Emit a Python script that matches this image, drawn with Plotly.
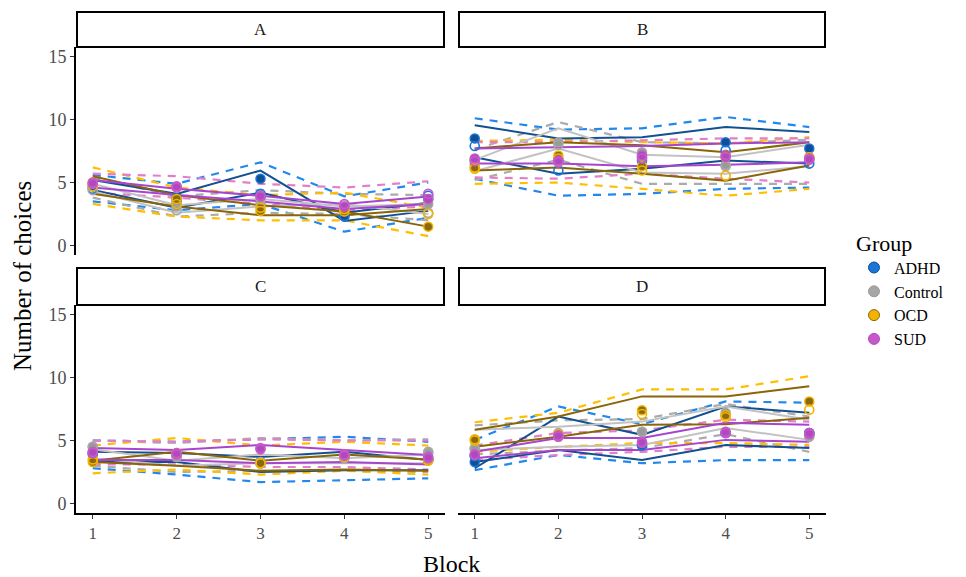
import plotly.graph_objects as go

BLOCKS = [1, 2, 3, 4, 5]
GROUPS = ["ADHD", "Control", "OCD", "SUD"]
PANELS = ["A", "B", "C", "D"]
Y_TICKS = [0, 5, 10, 15]

# ---------------- Panel A ----------------
A_FIT1 = {"ADHD": [5.2, 4.1, 5.95, 1.95, 2.75], "Control": [4.9, 3.2, 3.7, 3.1, 3.3],
          "OCD": [5.5, 4.0, 3.2, 2.7, 1.5], "SUD": [5.2, 4.5, 3.95, 3.3, 3.9]}
A_FIT2 = {"ADHD": [4.4, 3.0, 4.2, 2.6, 3.4], "Control": [4.3, 2.6, 3.1, 3.3, 2.5],
          "OCD": [4.1, 3.1, 2.4, 2.4, 2.9], "SUD": [4.6, 4.0, 3.5, 2.9, 3.3]}
A_UPPER = {"ADHD": [5.6, 4.9, 6.6, 3.9, 5.0], "Control": [5.4, 3.9, 4.4, 4.1, 4.0],
           "OCD": [6.2, 4.6, 4.0, 4.2, 3.0], "SUD": [5.7, 5.5, 4.9, 4.6, 5.1]}
A_LOWER = {"ADHD": [3.5, 2.8, 3.3, 1.1, 2.2], "Control": [3.8, 2.3, 2.6, 2.5, 2.0],
           "OCD": [3.3, 2.3, 2.0, 2.0, 0.75], "SUD": [4.2, 3.8, 3.3, 2.8, 3.1]}
A_FILLED = {"ADHD": [4.7, 3.5, 5.3, 2.3, 3.7], "Control": [4.9, 3.1, 3.7, 3.0, 3.3],
            "OCD": [5.0, 3.7, 2.75, 2.7, 1.5], "SUD": [4.9, 4.7, 3.9, 3.1, 3.7]}
A_OPEN = {"ADHD": [4.5, 3.75, 4.1, 2.35, 3.95], "Control": [4.4, 2.8, 3.3, 3.2, 2.6],
          "OCD": [4.7, 3.3, 3.0, 2.9, 2.5], "SUD": [5.0, 4.6, 3.95, 3.3, 4.1]}

# ---------------- Panel B ----------------
B_FIT1 = {"ADHD": [9.55, 8.5, 8.6, 9.4, 9.0], "Control": [6.8, 9.3, 7.2, 7.0, 8.0],
          "OCD": [7.7, 8.2, 7.95, 7.4, 8.2], "SUD": [7.7, 7.8, 7.9, 8.1, 8.2]}
B_FIT2 = {"ADHD": [7.0, 5.7, 6.1, 6.75, 6.5], "Control": [5.9, 7.7, 5.8, 5.7, 6.3],
          "OCD": [5.95, 6.2, 5.7, 5.15, 6.35], "SUD": [6.5, 6.5, 6.3, 6.4, 6.6]}
B_UPPER = {"ADHD": [10.1, 9.2, 9.3, 10.2, 9.4], "Control": [7.6, 9.8, 8.2, 8.1, 8.4],
           "OCD": [8.3, 8.4, 8.2, 8.1, 8.6], "SUD": [8.2, 8.2, 8.35, 8.5, 8.5]}
B_LOWER = {"ADHD": [5.3, 3.95, 4.1, 4.5, 4.6], "Control": [5.2, 6.8, 4.9, 4.9, 4.9],
           "OCD": [4.9, 5.0, 4.5, 3.95, 4.5], "SUD": [5.4, 5.3, 5.7, 5.3, 5.0]}
B_FILLED = {"ADHD": [8.5, 6.8, 7.0, 8.2, 7.7], "Control": [6.8, 8.2, 7.4, 6.4, 7.0],
            "OCD": [6.2, 7.15, 6.3, 7.0, 7.0], "SUD": [6.9, 6.75, 7.15, 7.0, 6.9]}
B_OPEN = {"ADHD": [7.9, 5.95, 6.75, 7.55, 6.5], "Control": [6.4, 8.0, 7.1, 6.3, 6.9],
          "OCD": [6.1, 6.9, 5.95, 5.55, 6.9], "SUD": [6.7, 6.6, 6.9, 7.2, 6.8]}

# ---------------- Panel C ----------------
C_FIT1 = {"ADHD": [4.1, 4.0, 3.7, 4.1, 3.45], "Control": [4.3, 3.4, 3.9, 3.6, 3.9],
          "OCD": [3.4, 4.1, 3.4, 3.9, 3.5], "SUD": [4.4, 4.25, 4.65, 4.25, 3.85]}
C_FIT2 = {"ADHD": [3.3, 3.3, 2.5, 2.65, 2.65], "Control": [3.6, 3.0, 3.2, 3.2, 3.2],
          "OCD": [3.3, 3.0, 2.6, 2.7, 2.6], "SUD": [3.45, 3.45, 3.2, 3.3, 3.1]}
C_UPPER = {"ADHD": [5.0, 4.9, 5.1, 5.3, 4.9], "Control": [5.0, 4.8, 5.2, 5.0, 5.1],
           "OCD": [4.6, 5.2, 4.6, 4.9, 4.6], "SUD": [5.0, 4.9, 5.1, 5.0, 5.0]}
C_LOWER = {"ADHD": [2.8, 2.3, 1.7, 1.85, 2.0], "Control": [3.0, 2.5, 2.6, 2.6, 2.5],
           "OCD": [2.4, 2.7, 2.3, 2.6, 2.3], "SUD": [3.1, 3.1, 2.9, 2.9, 2.7]}
C_FILLED = {"ADHD": [3.9, 3.8, 3.2, 3.7, 3.5], "Control": [4.5, 3.8, 3.2, 3.7, 4.0],
            "OCD": [3.3, 3.95, 3.2, 3.7, 3.5], "SUD": [4.0, 4.0, 4.4, 3.8, 3.7]}
C_OPEN = {"ADHD": [4.05, 3.9, 3.3, 3.65, 3.45], "Control": [4.5, 3.7, 3.3, 3.6, 4.1],
          "OCD": [3.5, 4.0, 3.2, 3.8, 3.4], "SUD": [4.1, 3.9, 4.3, 3.9, 3.6]}

# ---------------- Panel D ----------------
D_FIT1 = {"ADHD": [2.8, 6.9, 5.45, 7.7, 7.2], "Control": [5.85, 6.1, 6.5, 7.7, 6.65],
          "OCD": [5.85, 6.9, 8.5, 8.5, 9.3], "SUD": [4.1, 5.2, 5.2, 6.4, 6.25]}
D_FIT2 = {"ADHD": [3.3, 4.25, 3.45, 4.65, 4.4], "Control": [4.25, 4.5, 4.65, 6.0, 5.05],
          "OCD": [4.5, 5.3, 6.25, 6.3, 6.8], "SUD": [3.6, 4.25, 4.25, 5.05, 4.9]}
D_UPPER = {"ADHD": [5.05, 7.7, 6.3, 8.1, 8.0], "Control": [6.2, 6.6, 6.7, 7.9, 6.9],
           "OCD": [6.45, 7.2, 9.05, 9.05, 10.1], "SUD": [4.6, 5.6, 5.8, 6.65, 6.5]}
D_LOWER = {"ADHD": [2.65, 3.85, 3.2, 3.45, 3.45], "Control": [3.9, 4.2, 4.4, 5.5, 4.1],
           "OCD": [4.1, 4.5, 4.8, 4.8, 4.65], "SUD": [3.45, 3.85, 4.1, 4.5, 4.5]}
D_FILLED = {"ADHD": [3.3, 5.4, 4.6, 5.6, 5.6], "Control": [4.4, 5.6, 5.7, 7.2, 5.3],
            "OCD": [5.1, 5.5, 7.4, 7.0, 8.1], "SUD": [3.85, 5.4, 4.9, 5.7, 5.6]}
D_OPEN = {"ADHD": [3.75, 5.5, 4.65, 5.6, 5.6], "Control": [4.3, 5.5, 5.7, 7.0, 5.4],
          "OCD": [5.0, 5.3, 7.1, 6.85, 7.45], "SUD": [3.9, 5.3, 4.8, 5.6, 5.5]}

PANEL_DATA = {
    "A": (A_FIT1, A_FIT2, A_UPPER, A_LOWER, A_FILLED, A_OPEN),
    "B": (B_FIT1, B_FIT2, B_UPPER, B_LOWER, B_FILLED, B_OPEN),
    "C": (C_FIT1, C_FIT2, C_UPPER, C_LOWER, C_FILLED, C_OPEN),
    "D": (D_FIT1, D_FIT2, D_UPPER, D_LOWER, D_FILLED, D_OPEN),
}

# styles
POINT_COL = {"ADHD": "#1a75d8", "Control": "#a6a6a6", "OCD": "#f2b400", "SUD": "#c758c9"}
FILL_COL = {"ADHD": "#0f4f92", "Control": "#9a9a9a", "OCD": "#8a6a10", "SUD": "#b048c0"}
SOLID_COL = {"ADHD": "#13508f", "Control": "#c2c2c2", "OCD": "#8a6508", "SUD": "#a845cf"}
DASH_COL = {"ADHD": "#2288ee", "Control": "#ababab", "OCD": "#ffbe00", "SUD": "#e27fcb"}

W, H = 966, 577
SERIF = "Liberation Serif, Times New Roman, serif"

def px_x(v):
    return v / W

def px_y(v):
    return 1 - v / H

PANEL_BOX = {  # left, right, top, bottom in pixels
    "A": (76, 445, 47, 255),
    "B": (458, 826, 47, 255),
    "C": (76, 445, 305, 513),
    "D": (458, 826, 305, 513),
}
STRIP_TOP = {"A": 12, "B": 12, "C": 268, "D": 268}

fig = go.Figure()

for i, p in enumerate(PANELS):
    ax = "" if i == 0 else str(i + 1)
    xa, ya = "x" + ax, "y" + ax
    fit1, fit2, upper, lower, filled, opn = PANEL_DATA[p]
    for g in GROUPS:
        for band in (upper, lower):
            fig.add_trace(go.Scatter(x=BLOCKS, y=band[g], mode="lines", xaxis=xa, yaxis=ya,
                                     line=dict(color=DASH_COL[g], width=2.2, dash="8px,7px"),
                                     showlegend=False, hoverinfo="skip"))
    for g in GROUPS:
        for fit in (fit1, fit2):
            fig.add_trace(go.Scatter(x=BLOCKS, y=fit[g], mode="lines", xaxis=xa, yaxis=ya,
                                     line=dict(color=SOLID_COL[g], width=2),
                                     showlegend=False, hoverinfo="skip"))
    for g in GROUPS:
        fig.add_trace(go.Scatter(x=BLOCKS, y=filled[g], mode="markers", xaxis=xa, yaxis=ya,
                                 marker=dict(size=9, color=FILL_COL[g],
                                             line=dict(color=POINT_COL[g], width=1.5)),
                                 showlegend=False, hoverinfo="skip"))
        fig.add_trace(go.Scatter(x=BLOCKS, y=opn[g], mode="markers", xaxis=xa, yaxis=ya,
                                 marker=dict(size=9, color="rgba(255,255,255,0)",
                                             line=dict(color=POINT_COL[g], width=1.6)),
                                 showlegend=False, hoverinfo="skip"))

# legend entries
for g in GROUPS:
    fig.add_trace(go.Scatter(x=[None], y=[None], mode="markers", name=g,
                             marker=dict(size=11, color=POINT_COL[g],
                                         line=dict(color=FILL_COL[g], width=1)),
                             xaxis="x", yaxis="y"))

layout = dict(
    width=W, height=H, margin=dict(l=0, r=0, t=0, b=0),
    paper_bgcolor="white", plot_bgcolor="white",
    font=dict(family=SERIF, color="#4d4d4d"),
    showlegend=True,
    legend=dict(x=px_x(854), y=px_y(222), xanchor="left", yanchor="top",
                title=dict(text="Group", font=dict(size=22, color="black", family=SERIF), side="top"),
                font=dict(size=16, color="black", family=SERIF),
                tracegroupgap=0, itemwidth=30, bgcolor="rgba(0,0,0,0)"),
)

shapes = []
annotations = []
for i, p in enumerate(PANELS):
    ax = "" if i == 0 else str(i + 1)
    l, r, t, b = PANEL_BOX[p]
    bottom_row = p in ("C", "D")
    left_col = p in ("A", "C")
    layout["xaxis" + ax] = dict(
        domain=[px_x(l), px_x(r)], range=[0.8, 5.2], anchor="y" + ax,
        tickvals=BLOCKS, ticktext=[str(v) for v in BLOCKS],
        showticklabels=bottom_row, ticks="outside" if bottom_row else "",
        ticklen=4, tickwidth=1.3, tickcolor="#333333",
        showline=bottom_row, linecolor="black", linewidth=1.6,
        showgrid=False, zeroline=False,
        tickfont=dict(size=17, color="#4d4d4d", family=SERIF),
    )
    layout["yaxis" + ax] = dict(
        domain=[px_y(b), px_y(t)], range=[-0.75, 15.75], anchor="x" + ax,
        tickvals=Y_TICKS, showticklabels=left_col, ticks="outside" if left_col else "",
        ticklen=4, tickwidth=1.3, tickcolor="#333333",
        showline=left_col, linecolor="black", linewidth=1.6,
        showgrid=False, zeroline=False,
        tickfont=dict(size=18, color="#4d4d4d", family=SERIF),
    )
    st = STRIP_TOP[p]
    shapes.append(dict(type="rect", xref="paper", yref="paper",
                       x0=px_x(l + 1), x1=px_x(r - 1), y0=px_y(t), y1=px_y(st),
                       line=dict(color="black", width=2), fillcolor="white", layer="above"))
    annotations.append(dict(text=p, xref="paper", yref="paper",
                            x=px_x((l + r) / 2), y=px_y((st + t) / 2),
                            showarrow=False, xanchor="center", yanchor="middle",
                            font=dict(size=17, color="#1a1a1a", family=SERIF)))

annotations.append(dict(text="Block", xref="paper", yref="paper", x=px_x(451), y=px_y(564),
                        showarrow=False, xanchor="center", yanchor="middle",
                        font=dict(size=24, color="black", family=SERIF)))
annotations.append(dict(text="Number of choices", xref="paper", yref="paper", x=px_x(22), y=px_y(276),
                        showarrow=False, xanchor="center", yanchor="middle", textangle=-90,
                        font=dict(size=25, color="black", family=SERIF)))

layout["shapes"] = shapes
layout["annotations"] = annotations
fig.update_layout(**layout)
fig.write_html("out.html", config={"displayModeBar": False},
               post_script="document.body.style.margin='0px';document.body.style.padding='0px';")
